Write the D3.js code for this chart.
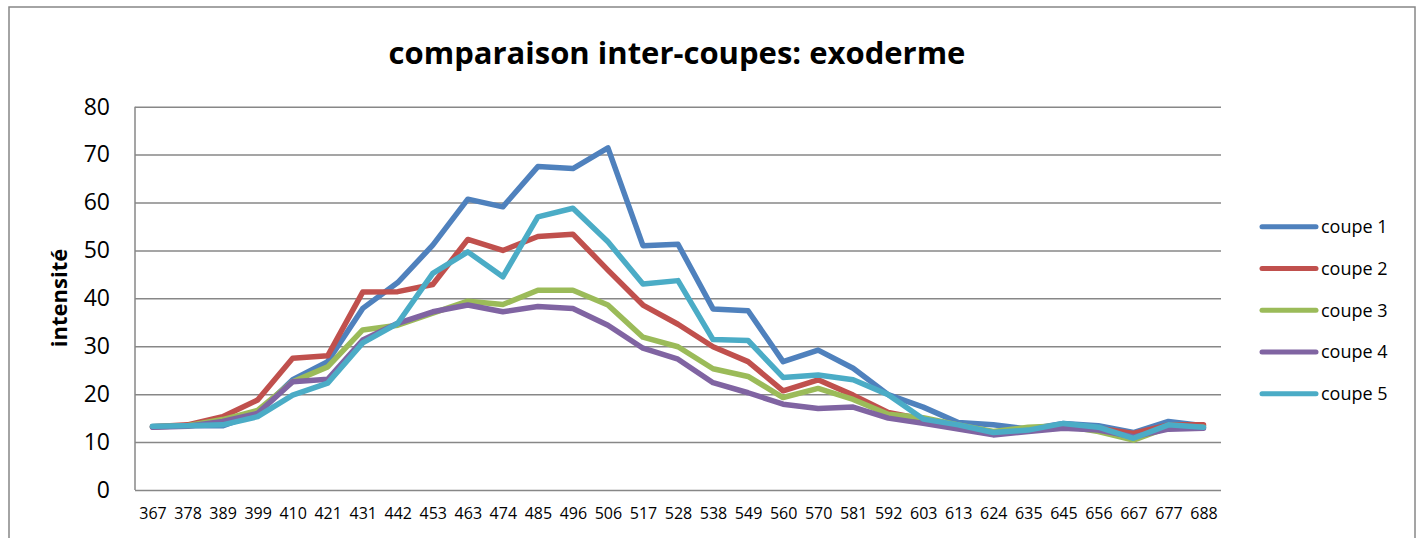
<!DOCTYPE html>
<html>
    <head>
        <title>comparaison inter-coupes: exoderme</title>
        <script src="https://d3js.org/d3.v7.min.js"></script>
    </head>
    <style>
        body {
            margin: 0;
            background: #ffffff;
        }
        text {
            font-family: "Open Sans", "Noto Sans", sans-serif;
            fill: #000000;
        }
    </style>
    <body>

        <div id="chart"></div>

        <script>

            // Data
            const categories = ["367", "378", "389", "399", "410", "421", "431", "442", "453", "463", "474",
                                "485", "496", "506", "517", "528", "538", "549", "560", "570", "581", "592",
                                "603", "613", "624", "635", "645", "656", "667", "677", "688"];
            const seriesNames = ["coupe 1", "coupe 2", "coupe 3", "coupe 4", "coupe 5"];
            const coupe1 = [13.2, 13.4, 13.4, 16.0, 23.0, 26.8, 37.9, 43.3, 51.1, 60.7, 59.1, 67.5, 67.1, 71.4, 51.0, 51.3,
                            37.8, 37.4, 26.8, 29.2, 25.4, 19.9, 17.3, 14.1, 13.6, 12.7, 13.9, 13.4, 12.0, 14.3, 13.4];
            const coupe2 = [13.2, 13.6, 15.3, 18.8, 27.5, 28.0, 41.3, 41.4, 42.9, 52.3, 50.0, 52.9, 53.4, 45.9, 38.6, 34.6,
                            29.9, 26.8, 20.7, 23.0, 19.8, 16.2, 14.8, 13.2, 11.7, 12.5, 13.2, 12.9, 11.8, 13.6, 13.6];
            const coupe3 = [13.2, 13.4, 14.7, 16.6, 22.6, 25.7, 33.4, 34.4, 36.9, 39.4, 38.7, 41.7, 41.7, 38.6, 31.9, 29.9,
                            25.3, 23.7, 19.3, 21.2, 18.9, 15.8, 15.1, 13.6, 12.2, 13.1, 13.4, 12.2, 10.4, 13.1, 13.1];
            const coupe4 = [13.1, 13.3, 14.3, 16.0, 22.6, 23.1, 31.3, 34.8, 37.2, 38.6, 37.2, 38.3, 37.9, 34.4, 29.6, 27.3,
                            22.4, 20.3, 17.9, 17.0, 17.3, 15.0, 13.9, 12.7, 11.5, 12.2, 12.9, 12.5, 11.1, 12.7, 12.9];
            const coupe5 = [13.3, 13.4, 13.6, 15.3, 19.8, 22.3, 30.7, 34.8, 45.2, 49.7, 44.5, 57.0, 58.8, 51.8, 43.0, 43.7,
                            31.4, 31.2, 23.5, 24.0, 23.0, 19.9, 14.8, 13.6, 12.0, 12.5, 13.9, 13.1, 10.8, 13.6, 13.1];
            const yTicks = [0, 10, 20, 30, 40, 50, 60, 70, 80];
            const colors = ["#4F81BD", "#C0504D", "#9BBB59", "#8064A2", "#4BACC6"];

            const series = [coupe1, coupe2, coupe3, coupe4, coupe5];

            // Dimensions
            const width = 1422, height = 538;
            const plot = {left: 135, right: 1221, top: 106.7, bottom: 490};
            const gridColor = "#878787";

            const svg = d3.select("#chart")
                        .append("svg")
                        .attr("width", width)
                        .attr("height", height);

            // Chart frame
            svg.append("rect")
                .attr("x", 9)
                .attr("y", 7)
                .attr("width", 1406)
                .attr("height", 560)
                .attr("fill", "none")
                .attr("stroke", gridColor)
                .attr("stroke-width", 1.5);

            // Scales
            const x = d3.scalePoint()
                .domain(categories)
                .range([plot.left, plot.right])
                .padding(0.5);

            const y = d3.scaleLinear()
                .domain([0, 80])
                .range([plot.bottom, plot.top]);

            // Horizontal gridlines + y labels
            const yAxis = svg.append("g")
                .attr("transform", `translate(${plot.left},0)`)
                .call(d3.axisLeft(y)
                    .tickValues(yTicks)
                    .tickSize(-(plot.right - plot.left))
                    .tickPadding(25));
            yAxis.select(".domain").remove();
            yAxis.selectAll(".tick line")
                .attr("stroke", gridColor)
                .attr("stroke-width", 1.5);
            yAxis.selectAll(".tick text")
                .style("font-size", "23px")
                .attr("fill", "#000");

            // Left axis line
            svg.append("line")
                .attr("x1", plot.left).attr("x2", plot.left)
                .attr("y1", plot.top).attr("y2", plot.bottom)
                .attr("stroke", gridColor)
                .attr("stroke-width", 1.5);

            // x labels
            const xAxis = svg.append("g")
                .attr("transform", `translate(0,${plot.bottom})`)
                .call(d3.axisBottom(x).tickSize(0).tickPadding(18));
            xAxis.select(".domain").remove();
            xAxis.selectAll(".tick text")
                .style("font-size", "16px")
                .attr("fill", "#000");

            // Lines
            const line = d3.line()
                .x((d, i) => x(categories[i]))
                .y(d => y(d));

            svg.selectAll(".series")
                .data(series)
                .enter()
                .append("path")
                .attr("class", "series")
                .attr("d", line)
                .attr("fill", "none")
                .attr("stroke", (d, i) => colors[i])
                .attr("stroke-width", 5.5)
                .attr("stroke-linejoin", "round")
                .attr("stroke-linecap", "round");

            // Title
            svg.append("text")
                .attr("x", 677)
                .attr("y", 64)
                .attr("text-anchor", "middle")
                .style("font-size", "31px")
                .style("font-weight", "bold")
                .text("comparaison inter-coupes: exoderme");

            // y axis title
            svg.append("text")
                .attr("transform", "translate(67,298) rotate(-90)")
                .attr("text-anchor", "middle")
                .style("font-size", "22px")
                .style("font-weight", "bold")
                .text("intensité");

            // Legend
            const legend = svg.selectAll(".legend")
                .data(seriesNames)
                .enter()
                .append("g")
                .attr("class", "legend")
                .attr("transform", (d, i) => `translate(1262,${226.7 + i * 41.75})`);

            legend.append("line")
                .attr("x1", 0).attr("x2", 54)
                .attr("stroke", (d, i) => colors[i])
                .attr("stroke-width", 5)
                .attr("stroke-linecap", "round");

            legend.append("text")
                .attr("x", 59)
                .attr("dy", "0.35em")
                .style("font-size", "18px")
                .text(d => d);

        </script>

    </body>
</html>
